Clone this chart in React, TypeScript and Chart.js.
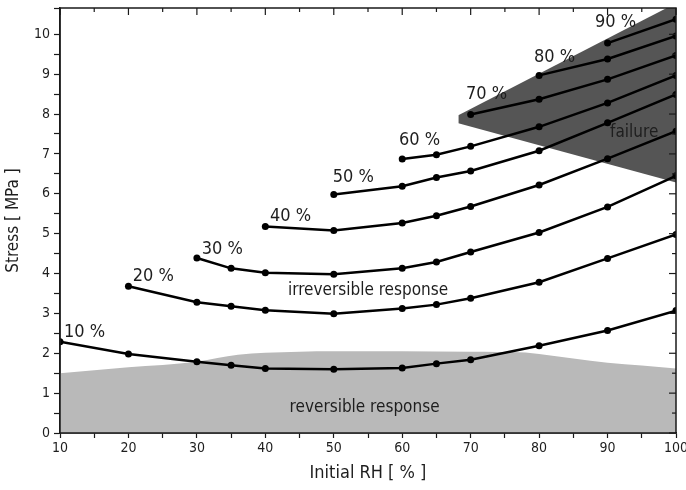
import React, { useEffect, useRef } from 'react';
import { Chart, registerables } from 'chart.js';
Chart.register(...registerables);

const FONT = '"DejaVu Sans Condensed", "DejaVu Sans", sans-serif';

// Initial-RH curves (x = initial RH %, y = stress MPa)
const curveNames = ['10 %', '20 %', '30 %', '40 %', '50 %', '60 %', '70 %', '80 %', '90 %'];
const xs10 = [10, 20, 30, 35, 40, 50, 60, 65, 70, 80, 90, 100];
const s10 = [2.29, 1.98, 1.79, 1.7, 1.62, 1.6, 1.63, 1.74, 1.84, 2.19, 2.57, 3.07];
const xs20 = [20, 30, 35, 40, 50, 60, 65, 70, 80, 90, 100];
const s20 = [3.68, 3.28, 3.18, 3.08, 2.99, 3.12, 3.22, 3.38, 3.78, 4.38, 4.98];
const xs30 = [30, 35, 40, 50, 60, 65, 70, 80, 90, 100];
const s30 = [4.39, 4.13, 4.02, 3.98, 4.13, 4.29, 4.54, 5.03, 5.67, 6.45];
const xs40 = [40, 50, 60, 65, 70, 80, 90, 100];
const s40 = [5.18, 5.08, 5.27, 5.45, 5.68, 6.22, 6.88, 7.57];
const xs50 = [50, 60, 65, 70, 80, 90, 100];
const s50 = [5.98, 6.19, 6.41, 6.57, 7.08, 7.78, 8.49];
const xs60 = [60, 65, 70, 80, 90, 100];
const s60 = [6.87, 6.98, 7.19, 7.68, 8.28, 8.97];
const xs70 = [70, 80, 90, 100];
const s70 = [7.99, 8.37, 8.87, 9.47];
const xs80 = [80, 90, 100];
const s80 = [8.97, 9.38, 9.96];
const xs90 = [90, 100];
const s90 = [9.78, 10.38];

const curveX = [xs10, xs20, xs30, xs40, xs50, xs60, xs70, xs80, xs90];
const curveY = [s10, s20, s30, s40, s50, s60, s70, s80, s90];

// curve label anchors (data coords)
const curveLabelX = [10.58, 20.62, 30.7, 40.68, 49.85, 59.53, 69.32, 79.26, 88.17];
const curveLabelY = [2.52, 3.92, 4.61, 5.44, 6.42, 7.34, 8.5, 9.42, 10.31];

// reversible region upper boundary
const revX = [10, 20, 30, 33, 36, 40, 50, 60, 70, 78, 80, 85, 90, 95, 100];
const revY = [1.5, 1.65, 1.79, 1.88, 1.96, 2.01, 2.05, 2.05, 2.04, 2.02, 1.98, 1.87, 1.76, 1.69, 1.62];

// failure wedge boundaries
const failTopX = [68.2, 100];
const failTopY = [7.97, 10.78];
const failBotX = [68.2, 100];
const failBotY = [7.77, 6.28];

// region labels
const regionLabels = ['irreversible response', 'reversible response', 'failure'];
const regionLabelX = [55.0, 54.5, 93.9];
const regionLabelY = [3.56, 0.64, 7.54];

const X_MIN = 10;
const X_MAX = 100;
const Y_MIN = 0;
const Y_MAX = 10.66;

const pts = (xs: number[], ys: number[]) => xs.map((x, i) => ({ x, y: ys[i] }));

const framePlugin = {
  id: 'frame',
  afterDatasetsDraw(chart: any) {
    const { ctx, chartArea: a, scales } = chart;
    ctx.save();
    ctx.strokeStyle = '#1a1a1a';
    ctx.lineWidth = 1.5;
    ctx.strokeRect(a.left, a.top, a.right - a.left, a.bottom - a.top);
    ctx.lineWidth = 1.2;
    for (const t of scales.x.ticks) {
      const px = scales.x.getPixelForValue(t.value);
      const len = Math.abs(t.value % 10) < 1e-6 ? 7 : 4;
      ctx.beginPath();
      ctx.moveTo(px, a.top);
      ctx.lineTo(px, a.top + len);
      ctx.stroke();
    }
    for (const t of scales.y.ticks) {
      if (t.value > Y_MAX - 0.05) continue;
      const py = scales.y.getPixelForValue(t.value);
      const len = Math.abs(t.value % 1) < 1e-6 ? 7 : 4;
      ctx.beginPath();
      ctx.moveTo(a.right, py);
      ctx.lineTo(a.right - len, py);
      ctx.stroke();
    }
    ctx.restore();
  },
};

const labelPlugin = {
  id: 'labels',
  afterDraw(chart: any) {
    const { ctx, scales } = chart;
    ctx.save();
    ctx.fillStyle = '#1e1e1e';
    ctx.textBaseline = 'middle';
    ctx.font = `18px ${FONT}`;
    ctx.textAlign = 'left';
    curveNames.forEach((n, i) => {
      ctx.fillText(n, scales.x.getPixelForValue(curveLabelX[i]), scales.y.getPixelForValue(curveLabelY[i]));
    });
    ctx.font = `17px ${FONT}`;
    ctx.textAlign = 'center';
    regionLabels.forEach((n, i) => {
      ctx.fillText(n, scales.x.getPixelForValue(regionLabelX[i]), scales.y.getPixelForValue(regionLabelY[i]));
    });
    ctx.restore();
  },
};

export default function App() {
  const ref = useRef<HTMLCanvasElement>(null);
  useEffect(() => {
    const curveSets = curveX.map((xs, i) => ({
      label: curveNames[i],
      data: pts(xs, curveY[i]),
      borderColor: '#000',
      backgroundColor: '#000',
      borderWidth: 2.5,
      pointRadius: 3.5,
      pointBorderWidth: 0,
      tension: 0,
      fill: false,
    }));
    const datasets: any[] = [
      ...curveSets,
      {
        label: 'failureTop',
        data: pts(failTopX, failTopY),
        borderWidth: 0,
        borderColor: 'rgba(0,0,0,0)',
        pointRadius: 0,
        fill: '+1',
        backgroundColor: '#555555',
      },
      {
        label: 'failureBottom',
        data: pts(failBotX, failBotY),
        borderWidth: 0,
        borderColor: 'rgba(0,0,0,0)',
        pointRadius: 0,
        fill: false,
      },
      {
        label: 'reversible',
        data: pts(revX, revY),
        borderWidth: 0,
        borderColor: 'rgba(0,0,0,0)',
        pointRadius: 0,
        cubicInterpolationMode: 'monotone',
        fill: 'origin',
        backgroundColor: '#b9b9b9',
      },
    ];
    const chart = new Chart(ref.current!, {
      type: 'line',
      data: { datasets },
      options: {
        responsive: false,
        animation: false,
        events: [],
        layout: { padding: { top: 8, right: 10, left: 0, bottom: 0 } },
        plugins: {
          legend: { display: false },
          tooltip: { enabled: false },
        },
        scales: {
          x: {
            type: 'linear',
            min: X_MIN,
            max: X_MAX,
            afterFit: (s: any) => {
              s.height = 57;
              s.paddingLeft = 0;
              s.paddingRight = 0;
            },
            border: { display: true, color: '#1a1a1a', width: 1.5 },
            grid: { drawOnChartArea: false, tickLength: 5, color: '#1a1a1a', tickWidth: 1.2 },
            ticks: {
              stepSize: 5,
              autoSkip: false,
              maxRotation: 0,
              padding: 2,
              color: '#1e1e1e',
              font: { family: FONT, size: 14 },
              callback: (v: any) => (Math.abs(v % 10) < 1e-6 ? String(v) : ''),
            },
            title: {
              display: true,
              text: 'Initial RH [ % ]',
              color: '#1e1e1e',
              font: { family: FONT, size: 18 },
              padding: { top: 0, bottom: 6 },
            },
          },
          y: {
            type: 'linear',
            min: Y_MIN,
            max: Y_MAX,
            afterFit: (s: any) => {
              s.width = 60;
              s.paddingTop = 0;
              s.paddingBottom = 0;
            },
            border: { display: true, color: '#1a1a1a', width: 1.5 },
            grid: { drawOnChartArea: false, tickLength: 6, color: '#1a1a1a', tickWidth: 1.2 },
            ticks: {
              stepSize: 0.5,
              autoSkip: false,
              padding: 4,
              color: '#1e1e1e',
              font: { family: FONT, size: 14 },
              callback: (v: any) => (Math.abs(v % 1) < 1e-6 ? String(v) : ''),
            },
            title: {
              display: true,
              text: 'Stress [ MPa ]',
              color: '#1e1e1e',
              font: { family: FONT, size: 17 },
              padding: { top: 3, bottom: 0 },
            },
          },
        },
      },
      plugins: [framePlugin, labelPlugin],
    } as any);
    return () => chart.destroy();
  }, []);
  return (
    <div style={{ position: 'fixed', left: 0, top: 0, width: 686, height: 490, background: '#fff' }}>
      <canvas ref={ref} width={686} height={490} style={{ width: 686, height: 490, display: 'block' }} />
    </div>
  );
}
